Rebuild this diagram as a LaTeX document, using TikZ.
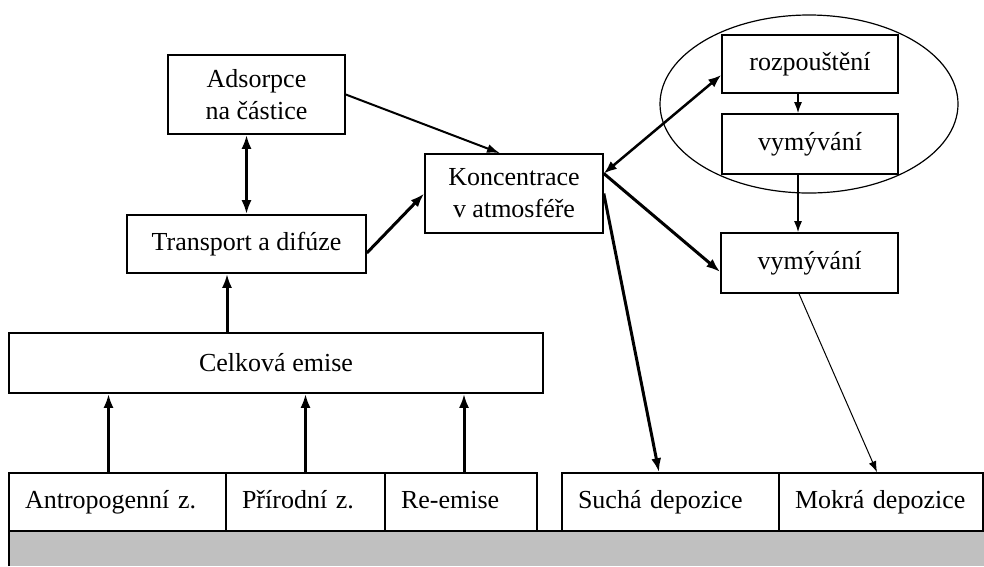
\documentclass[tikz,border=0pt]{standalone}
\usepackage{fontspec}
\setmainfont{Liberation Serif}
\usepackage{xcolor}
\usetikzlibrary{arrows.meta}
\pgfdeclarelayer{bg}
\pgfsetlayers{bg,main}
\definecolor{Zeme}{RGB}{192, 192, 192}

\begin{document}
\begin{tikzpicture}[x=1pt, y=-1pt, font=\fontsize{26}{32}\selectfont,
  box/.style={rectangle, draw=black, line width=1.6pt, fill=white, inner sep=0pt, align=center},
  pata/.style={box, inner xsep=16pt, align=left, minimum height=58pt, text height=18pt, text depth=6pt},
  silna/.style={line width=3pt, -{Latex[length=14pt, width=10pt]}},
  slaba/.style={line width=1.5pt, -{Latex[length=11pt, width=8pt]}}]

\useasboundingbox (0,0) rectangle (984,566);

% horni cast
\node [box, minimum width=177pt, minimum height=79pt] (ad) at (256.5,94.5) {Adsorpce\\na částice};
\node [box, minimum width=239pt, minimum height=58pt] (tr) at (246.5,244) {Transport a difúze};
\node [box, minimum width=178pt, minimum height=79pt] (ko) at (514,193.5) {Koncentrace\\v atmosféře};

% mokre procesy
\node [box, minimum width=176pt, minimum height=58pt] (rz) at (810,64) {rozpouštění};
\node [box, minimum width=176pt, minimum height=60pt] (vy1) at (810,144) {vymývání};
\node [box, minimum width=177pt, minimum height=60pt] (vy2) at (809.5,263) {vymývání};

\node [box, minimum width=534pt, minimum height=60pt] (ce) at (276,363) {Celková emise};

% zdroje a depozice
\node [pata, text width=185pt] (az) at (117.5,502) {Antropogenní z.};
\node [pata, text width=127pt] (pz) at (305.5,502) {Přírodní z.};
\node [pata, text width=120pt] (re) at (461,502) {Re-emise};
\node [pata, text width=185pt] (sd) at (670.5,502) {Suchá depozice};
\node [pata, text width=172pt] (md) at (881,502) {Mokrá depozice};

\begin{pgfonlayer}{bg}
\draw [line width=1.2pt] (809,104) ellipse [x radius=149pt, y radius=89pt];
\fill [Zeme] (9,531) rectangle (984,566);
\draw [line width=1.6pt] (9,566) -- (9,531) -- (984,531);
\end{pgfonlayer}

% sipky
\draw [silna, {Latex[length=14pt, width=10pt]}-{Latex[length=14pt, width=10pt]}] (tr.north |- ad.south) -- (tr.north);
\draw [silna] ([yshift=-9pt]tr.east) -- (ko.west);
\draw [line width=2pt, -{Latex[length=13pt, width=9pt]}] (ad.east) -- ([xshift=-14pt]ko.north);
\draw [line width=2.5pt, {Latex[length=13pt, width=10pt]}-{Latex[length=13pt, width=10pt]}] ([yshift=20pt]ko.east) -- ([yshift=-11pt]rz.west);
\draw [silna] ([yshift=20pt]ko.east) -- ([yshift=-9pt]vy2.west);
\draw [silna] (ko.east) -- ([xshift=-11.5pt]sd.north);
\draw [slaba] ([xshift=-12pt]rz.south) -- ([xshift=-12pt]vy1.north);
\draw [slaba] ([xshift=-12pt]vy1.south) -- ([xshift=-11.5pt]vy2.north);
\draw [line width=1pt, -{Latex[length=11pt, width=8pt]}] ([xshift=-10.5pt]vy2.south) -- ([xshift=-4pt]md.north);
\draw [silna] ([xshift=-49pt]ce.north) -- ([xshift=-19.5pt]tr.south);
\draw [silna] ([xshift=-9pt]az.north) -- ([xshift=-167.5pt]ce.south);
\draw [silna] (pz.north) -- ([xshift=29.5pt]ce.south);
\draw [silna] ([xshift=3pt]re.north) -- ([xshift=188pt]ce.south);

\end{tikzpicture}
\end{document}
